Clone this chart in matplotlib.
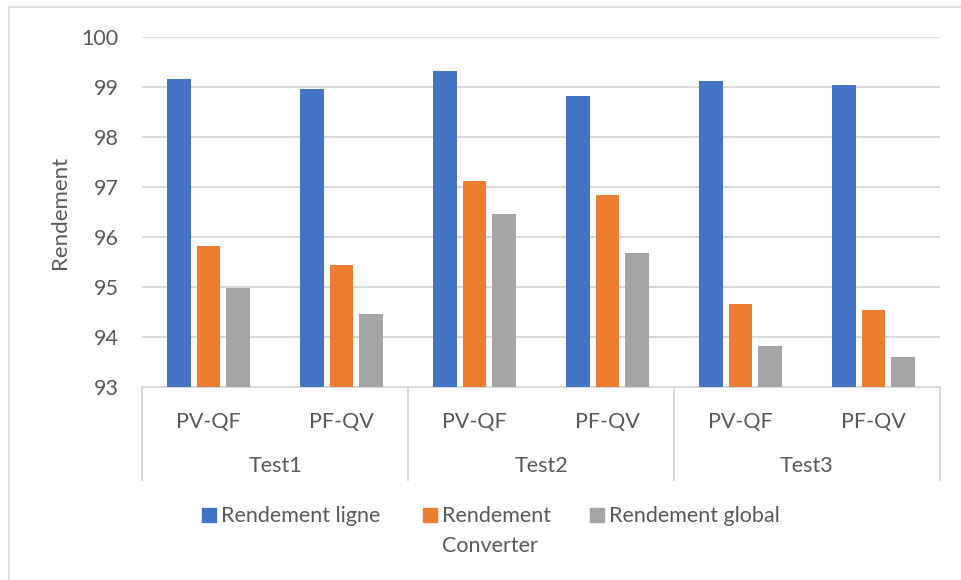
import numpy as np
import matplotlib
matplotlib.use("Agg")
import matplotlib.pyplot as plt
from matplotlib.patches import Rectangle
from matplotlib.lines import Line2D

# Data.
groups = ["Test1", "Test2", "Test3"]
modes = ["PV-QF", "PF-QV"]
series_names = ["Rendement ligne", "Rendement\nConverter", "Rendement global"]
rendement_ligne = [99.15, 98.97, 99.31, 98.82, 99.12, 99.03]
rendement_converter = [95.81, 95.43, 97.13, 96.84, 94.66, 94.53]
rendement_global = [94.98, 94.45, 96.45, 95.69, 93.83, 93.61]
y_ticks = [93, 94, 95, 96, 97, 98, 99, 100]

colors = ["#4472C4", "#ED7D31", "#A5A5A5"]
text_color = "#595959"
grid_color = "#D9D9D9"
fs = 15.5

plt.rcParams["font.family"] = ["Lato", "DejaVu Sans"]
plt.rcParams["font.size"] = fs

fig = plt.figure(figsize=(9.61, 5.8), dpi=100)
ax = fig.add_axes([142 / 961, 1 - 387 / 580, 798 / 961, 350 / 580])

n_cat = len(groups) * len(modes)
x = np.arange(n_cat)
width = 0.175
offset = 0.222
all_series = [rendement_ligne, rendement_converter, rendement_global]
for i, values in enumerate(all_series):
    ax.bar(x + (i - 1) * offset, np.array(values) - 93, width=width,
           bottom=93, color=colors[i], zorder=3)

ax.set_xlim(-0.5, n_cat - 0.5)
ax.set_ylim(93, 100)
ax.set_yticks(y_ticks)
ax.set_yticklabels([str(v) for v in y_ticks])
ax.grid(axis="y", color=grid_color, linewidth=1.4, zorder=0)
ax.tick_params(axis="y", length=0, pad=17, colors=text_color, labelsize=fs)
for s in ["top", "right", "left"]:
    ax.spines[s].set_visible(False)
ax.spines["bottom"].set_color(grid_color)
ax.spines["bottom"].set_linewidth(1.4)

# Level 1 labels (modes).
ax.set_xticks(x)
ax.set_xticklabels(modes * len(groups))
ax.tick_params(axis="x", length=0, pad=18, colors=text_color, labelsize=fs)

# Level 2 labels (groups) and separators.
ax_h = 350.0
for g, name in enumerate(groups):
    center = g * len(modes) + (len(modes) - 1) / 2
    ax.text(center, -79 / ax_h, name, transform=ax.get_xaxis_transform(),
            ha="center", va="center", color=text_color, fontsize=fs)
for b in range(len(groups) + 1):
    xb = b * len(modes) - 0.5
    ax.add_line(Line2D([xb, xb], [0, -93 / ax_h], transform=ax.get_xaxis_transform(),
                       color=grid_color, linewidth=1.4, clip_on=False))

ax.set_ylabel("Rendement", color=text_color, fontsize=16, labelpad=8)

# Legend.
leg_x = [202, 423, 590]
for i, name in enumerate(series_names):
    fig.add_artist(Rectangle((leg_x[i] / 961, 1 - 522 / 580), 14 / 961, 14 / 580,
                             transform=fig.transFigure, color=colors[i]))
    fig.text((leg_x[i] + 19) / 961, 1 - 506 / 580, name, ha="left", va="top",
             color=text_color, fontsize=fs, linespacing=1.65,
             transform=fig.transFigure)

# Chart border.
fig.add_artist(Rectangle((9 / 961, -0.1), 1.2, 1 - 7 / 580 + 0.1, transform=fig.transFigure,
                         fill=False, edgecolor=grid_color, linewidth=1.2))

fig.savefig("out.png", dpi=100)
